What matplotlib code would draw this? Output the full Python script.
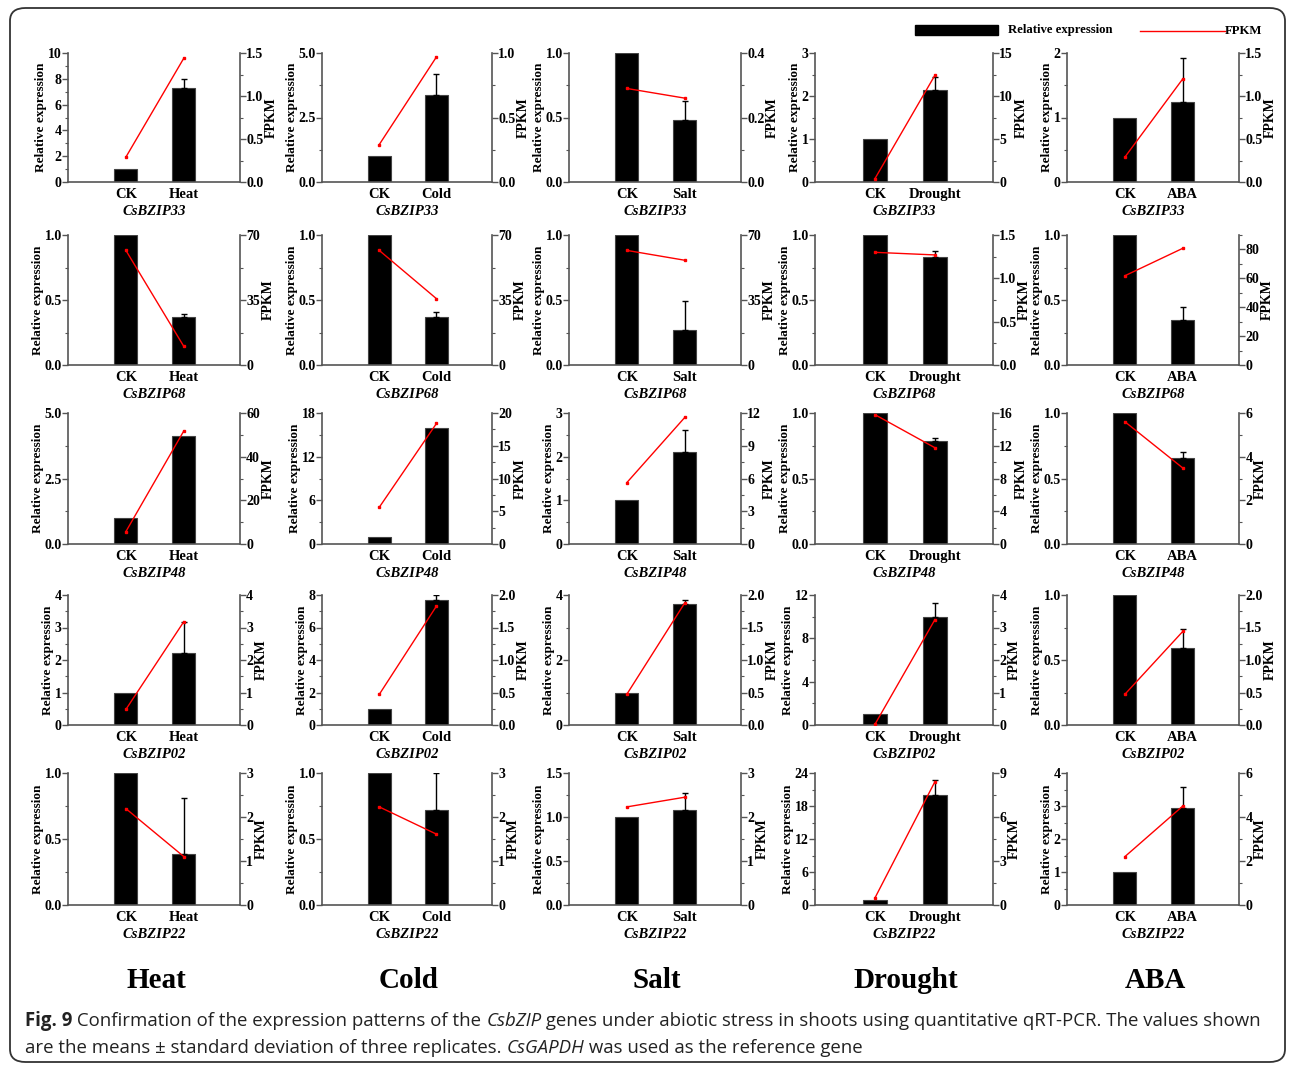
import numpy as np
import matplotlib
matplotlib.use("Agg")
import matplotlib.pyplot as plt
from matplotlib.patches import Rectangle, FancyBboxPatch
from matplotlib.lines import Line2D
from matplotlib.ticker import MultipleLocator, AutoMinorLocator, FormatStrFormatter

W, H = 1292, 1065
SERIF = "Liberation Serif"
plt.rcParams["font.family"] = SERIF
plt.rcParams["font.weight"] = "bold"
plt.rcParams["axes.labelweight"] = "bold"

stresses = ["Heat", "Cold", "Salt", "Drought", "ABA"]
genes = ["CsBZIP33", "CsBZIP68", "CsBZIP48", "CsBZIP02", "CsBZIP22"]

# relative expression of the treated sample (CK is always 1.0)
rel_ck = 1.0
rel_treat = [
    [7.25, 3.36, 0.48, 2.15, 1.24],
    [0.37, 0.37, 0.27, 0.83, 0.35],
    [4.14, 16.0, 2.10, 0.79, 0.66],
    [2.21, 7.68, 3.71, 9.96, 0.59],
    [0.39, 0.72, 1.08, 20.0, 2.95],
]
# upper error (standard deviation)
rel_err = [
    [0.70, 0.84, 0.15, 0.30, 0.69],
    [0.02, 0.04, 0.22, 0.05, 0.10],
    [0.00, 0.00, 0.51, 0.02, 0.04],
    [0.97, 0.30, 0.15, 1.33, 0.15],
    [0.42, 0.28, 0.19, 2.70, 0.63],
]
fpkm_ck = [
    [0.29, 0.29, 0.29, 0.39, 0.29],
    [61.7, 61.7, 61.7, 1.30, 61.8],
    [5.7, 5.6, 5.63, 15.8, 5.6],
    [0.48, 0.47, 0.475, 0.02, 0.473],
    [2.19, 2.23, 2.23, 0.48, 2.2],
]
fpkm_treat = [
    [1.44, 0.97, 0.26, 12.4, 1.20],
    [10.0, 35.7, 56.4, 1.27, 80.8],
    [51.8, 18.4, 11.6, 11.76, 3.48],
    [3.18, 1.83, 1.88, 3.24, 1.44],
    [1.10, 1.61, 2.45, 8.4, 4.5],
]

# axis ranges (max, major step)
left_max = [[10, 5, 1, 3, 2], [1, 1, 1, 1, 1], [5, 18, 3, 1, 1],
            [4, 8, 4, 12, 1], [1, 1, 1.5, 24, 4]]
left_step = [[2, 2.5, 0.5, 1, 1], [0.5, 0.5, 0.5, 0.5, 0.5], [2.5, 6, 1, 0.5, 0.5],
             [1, 2, 2, 4, 0.5], [0.5, 0.5, 0.5, 6, 1]]
right_max = [[1.5, 1.0, 0.4, 15, 1.5], [70, 70, 70, 1.5, 90], [60, 20, 12, 16, 6],
             [4, 2.0, 2.0, 4, 2.0], [3, 3, 3, 9, 6]]
right_step = [[0.5, 0.5, 0.2, 5, 0.5], [35, 35, 35, 0.5, 20], [20, 5, 3, 4, 2],
              [1, 0.5, 0.5, 1, 0.5], [1, 1, 1, 3, 2]]

col_x = [(68, 240), (322, 492), (569, 741), (815, 993), (1067, 1239)]
row_y = [(53, 182), (235, 365), (413, 544), (595, 725), (773, 905)]

spine_c = "#555555"

fig = plt.figure(figsize=(W / 100, H / 100), dpi=100)


def fmt_for(step):
    return "%.1f" if step != int(step) else "%d"


def style_axis(axis_obj, step):
    axis_obj.set_major_locator(MultipleLocator(step))
    axis_obj.set_minor_locator(AutoMinorLocator(2))
    axis_obj.set_major_formatter(FormatStrFormatter(fmt_for(step)))


for r in range(5):
    for c in range(5):
        x0, x1 = col_x[c]
        y0, y1 = row_y[r]
        ax = fig.add_axes([x0 / W, 1 - y1 / H, (x1 - x0) / W, (y1 - y0) / H])
        ax2 = ax.twinx()

        ax.bar([0, 1], [rel_ck, rel_treat[r][c]], width=0.4, color="black",
               edgecolor="#444444", linewidth=0.8, zorder=2)
        if rel_err[r][c] > 0:
            ax.errorbar([1], [rel_treat[r][c]], yerr=[[0], [rel_err[r][c]]],
                        fmt="none", ecolor="black", elinewidth=1, capsize=2.5,
                        capthick=1, zorder=3)
        ax2.plot([0, 1], [fpkm_ck[r][c], fpkm_treat[r][c]], color="red", lw=1,
                 marker="s", ms=2, zorder=4)

        ax.set_xlim(-1.0, 1.97)
        ax.set_ylim(0, left_max[r][c])
        ax2.set_ylim(0, right_max[r][c])
        style_axis(ax.yaxis, left_step[r][c])
        style_axis(ax2.yaxis, right_step[r][c])

        ax.set_xticks([0, 1])
        ax.set_xticklabels(["CK", stresses[c]], fontsize=10.5)
        ax.tick_params(axis="x", length=0, pad=4)
        for a in (ax, ax2):
            a.tick_params(axis="y", which="major", direction="out", length=4,
                          width=1, color=spine_c, pad=0.5, labelsize=10)
            a.tick_params(axis="y", which="minor", direction="out", length=2.5,
                          width=0.8, color=spine_c)
            a.spines["top"].set_visible(False)
        ax.spines["right"].set_visible(False)
        ax2.spines["left"].set_visible(False)
        ax2.spines["bottom"].set_visible(False)
        for sp in ("left", "bottom"):
            ax.spines[sp].set_color(spine_c)
            ax.spines[sp].set_linewidth(1.2)
        ax2.spines["right"].set_color(spine_c)
        ax2.spines["right"].set_linewidth(1.2)

        ax.set_ylabel("Relative expression", fontsize=9.5, labelpad=0.5)
        ax2.set_ylabel("FPKM", fontsize=10, labelpad=1)
        ax.set_xlabel(genes[r], fontstyle="italic", fontsize=10.5, labelpad=3)

# stress titles below columns
for c, s in enumerate(stresses):
    xc = (col_x[c][0] + col_x[c][1]) / 2 + 2
    fig.text(xc / W, 1 - 980 / H, s, ha="center", va="center", fontsize=21)

# legend at top right
fig.add_artist(Rectangle((915 / W, 1 - 35 / H), 83 / W, 10 / H,
                         transform=fig.transFigure, color="black"))
fig.text(1008 / W, 1 - 30 / H, "Relative expression", ha="left", va="center",
         fontsize=9.2)
fig.add_artist(Line2D([1140 / W, 1225 / W], [1 - 31 / H, 1 - 31 / H],
                      transform=fig.transFigure, color="red", lw=1))
fig.text(1225 / W, 1 - 31 / H, "FPKM", ha="left", va="center", fontsize=9.2)

# frame around the figure
fig.add_artist(FancyBboxPatch((10 / W, 3 / H), 1275 / W, 1054 / H,
                              boxstyle="round,pad=0,rounding_size=0.012",
                              transform=fig.transFigure, fill=False,
                              ec="#333333", lw=1.3))

# caption with mixed styles
renderer = fig.canvas.get_renderer()
CAP = "Open Sans"
line1 = [("Fig. 9", "bold", "normal"),
         (" Confirmation of the expression patterns of the ", "normal", "normal"),
         ("CsbZIP", "normal", "italic"),
         (" genes under abiotic stress in shoots using quantitative qRT-PCR. The values shown",
          "normal", "normal")]
line2 = [("are the means \u00b1 standard deviation of three replicates. ", "normal", "normal"),
         ("CsGAPDH", "normal", "italic"),
         (" was used as the reference gene", "normal", "normal")]


def text_w(s, weight, style, size):
    t = fig.text(0, 0, "|" + s + "|", fontfamily=CAP, fontweight=weight,
                 fontstyle=style, fontsize=size)
    bar = fig.text(0, 0, "||", fontfamily=CAP, fontweight=weight,
                   fontstyle=style, fontsize=size)
    w = t.get_window_extent(renderer).width - bar.get_window_extent(renderer).width
    t.remove()
    bar.remove()
    return w


size0 = 12
w1 = sum(text_w(s, wt, st, size0) for s, wt, st in line1)
cap_size = size0 * 1233 / w1


def draw_runs(runs, x, y):
    for s, wt, st in runs:
        fig.text(x / W, 1 - y / H, s, ha="left", va="center", fontfamily=CAP,
                 fontweight=wt, fontstyle=st, fontsize=cap_size, color="#222222")
        x += text_w(s, wt, st, cap_size)


draw_runs(line1, 25, 1021)
draw_runs(line2, 25, 1048)

fig.savefig("out.png", dpi=100)
